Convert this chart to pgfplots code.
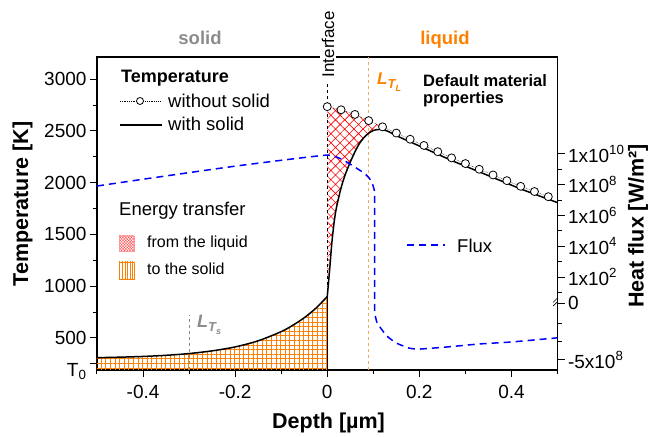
\documentclass[border=0pt]{standalone}
\usepackage{fontspec}
\setmainfont{Liberation Sans}
\usepackage{pgfplots}
\pgfplotsset{compat=1.18}
\usetikzlibrary{patterns.meta}
\definecolor{myorange}{RGB}{255,128,0}
\definecolor{ltlorange}{RGB}{247,168,96}
\definecolor{mygray}{RGB}{140,140,140}
\definecolor{myblue}{RGB}{0,0,255}
\newcommand{\fsz}[1]{\fontsize{#1bp}{#1bp}\selectfont}
\begin{document}
\begin{tikzpicture}
\begin{axis}[
  at={(0,0)}, anchor=south west,
  scale only axis, width=460.5bp, height=313bp,
  xmin=-0.5, xmax=0.5, ymin=190, ymax=3215,
  xtick pos=left, ytick pos=left, tick align=outside,
  xtick={-0.4,-0.2,0,0.2,0.4},
  xticklabels={-0.4,-0.2,0,0.2,0.4},
  minor xtick={-0.5,-0.3,-0.1,0.1,0.3,0.5},
  ytick={250,500,1000,1500,2000,2500,3000},
  yticklabels={\raisebox{-13bp}[0pt][0pt]{T\textsubscript{0}},500,1000,1500,2000,2500,3000},
  minor ytick={750,1250,1750,2250,2750},
  major tick length=7bp, minor tick length=4bp,
  every tick/.style={black, line width=1bp},
  axis line style={line width=1.2bp},
  tick label style={font=\fsz{19}},
  xticklabel style={yshift=-5bp},
  /pgf/number format/assume math mode=true,
]
% energy from the liquid: region between "without solid" and "with solid"
\addplot[draw=none, pattern={Hatch[angle=45,distance=6.5bp,line width=0.6bp]}, pattern color=red] coordinates {
(0,2735) (0.03,2705) (0.06,2660) (0.09,2600) (0.12,2540) (0.125,2525)
(0.115,2515) (0.1,2505) (0.085,2460) (0.07,2380) (0.055,2250) (0.04,2090)
(0.03,1950) (0.02,1760) (0.015,1620) (0.01,1420) (0.005,1150) (0,900)} -- cycle;
% energy to the solid
\addplot[draw=none, pattern={Hatch[angle=0,distance=4.6bp,line width=0.8bp]}, pattern color=myorange, smooth] coordinates {
(-0.5,309) (-0.45,314) (-0.4,321) (-0.35,332) (-0.3,349) (-0.25,375) (-0.2,413)
(-0.15,472) (-0.1,561) (-0.075,622) (-0.05,695) (-0.025,786) (0,900)} \closedcycle;
% reference lines
\draw[mygray, dashed, line width=0.8bp] (axis cs:-0.3,190) -- (axis cs:-0.3,722);
\draw[ltlorange, dashed, line width=1bp] (axis cs:0.09,190) -- (axis cs:0.09,3215);
\draw[black, dashed, line width=0.8bp] (axis cs:0,900) -- (axis cs:0,2975);
\draw[black, line width=1.2bp] (axis cs:0,190) -- (axis cs:0,900);
% with solid curve
\addplot[black, line width=1.5bp, smooth] coordinates {
(-0.5,309) (-0.45,314) (-0.4,321) (-0.35,332) (-0.3,349) (-0.25,375) (-0.2,413)
(-0.15,472) (-0.1,561) (-0.075,622) (-0.05,695) (-0.025,786) (0,900)};
\addplot[black, line width=1.5bp, smooth, tension=0.5] coordinates {
(0,900) (0.005,1150) (0.01,1420) (0.015,1620) (0.02,1760) (0.03,1950)
(0.04,2090) (0.055,2250) (0.07,2380) (0.085,2460) (0.1,2505) (0.115,2515)
(0.13,2500) (0.15,2455) (0.18,2395) (0.21,2335) (0.24,2275) (0.27,2215)
(0.30,2160) (0.33,2105) (0.36,2050) (0.39,1995) (0.42,1940) (0.45,1890)
(0.48,1840) (0.5,1808)};
% without solid curve
\addplot[black, densely dotted, line width=0.5bp, mark=*, mark size=4bp,
  mark options={solid, fill=white, draw=black, line width=0.8bp}] coordinates {
(0,2735) (0.03,2705) (0.06,2660) (0.09,2600) (0.12,2540) (0.15,2480)
(0.18,2420) (0.21,2360) (0.24,2300) (0.27,2240) (0.30,2185) (0.33,2130)
(0.36,2075) (0.39,2020) (0.42,1965) (0.45,1915) (0.48,1865)};
\end{axis}
\begin{axis}[
  at={(0,0)}, anchor=south west,
  scale only axis, width=460.5bp, height=313bp,
  xmin=-0.5, xmax=0.5, ymin=-4.04, ymax=16.29,
  axis x line=none, axis y line*=right, tick align=outside,
  ytick={-3.39,0.31,2,4,6,8,10},
  yticklabels={-5x10\textsuperscript{8},0,1x10\textsuperscript{2},1x10\textsuperscript{4},1x10\textsuperscript{6},1x10\textsuperscript{8},1x10\textsuperscript{10}},
  minor ytick={-2.22,-0.99,1,3,5,7,9},
  major tick length=7bp, minor tick length=4bp,
  every tick/.style={black, line width=1bp},
  axis line style={line width=1.2bp},
  tick label style={font=\fsz{19}},
  /pgf/number format/assume math mode=true,
]
% flux: upper part in decades (log10 of W/m^2), lower part linear (0 at 0.31, -5e8 at -3.39)
\addplot[myblue, line width=1.5bp, dash pattern=on 7bp off 5bp, smooth, tension=0.3] coordinates {
(-0.5,7.91) (-0.4,8.35) (-0.3,8.78) (-0.2,9.20) (-0.1,9.58) (0,9.92)
(0.026,9.72) (0.045,9.42) (0.063,9.08) (0.08,8.75) (0.091,8.43) (0.098,8.05)
(0.102,7.65) (0.103,7.0) (0.103,0.31) (0.103,-0.34) (0.108,-0.95) (0.119,-1.44)
(0.13,-1.85) (0.15,-2.29) (0.178,-2.62) (0.2,-2.68) (0.258,-2.55) (0.33,-2.35)
(0.40,-2.22) (0.5,-1.95)};
\end{axis}
% axis break mark on right axis
\draw[line width=0.7bp] (456bp,64bp) -- (460bp,68bp);
\draw[line width=0.7bp] (456bp,67.5bp) -- (460bp,71.5bp);
% annotations
\node[anchor=base, font=\bfseries\fsz{18.5}, text=mygray] at (103bp,325bp) {solid};
\node[anchor=base, font=\bfseries\fsz{18.5}, text=myorange] at (348bp,325bp) {liquid};
\node[rotate=90, anchor=west, fill=white, inner sep=1.5bp, font=\fsz{17}] at (231bp,291bp) {Interface};
\node[anchor=base west, inner sep=0, text=myorange, font=\bfseries\itshape\fsz{17}] at (280bp,285bp)
  {L\raisebox{-4bp}{\fsz{13}T\raisebox{-3bp}{\fsz{9}L}}};
\node[anchor=base west, inner sep=0, text=mygray, font=\bfseries\itshape\fsz{18}] at (100bp,42bp)
  {L\raisebox{-4bp}{\fsz{13}T\raisebox{-3bp}{\fsz{9}s}}};
\node[anchor=base west, inner sep=0, font=\bfseries\fsz{16.5}] at (326bp,283.5bp) {Default material};
\node[anchor=base west, inner sep=0, font=\bfseries\fsz{16.5}] at (326bp,266bp) {properties};
% legend: temperature
\node[anchor=base west, inner sep=0, font=\bfseries\fsz{18}] at (24bp,287bp) {Temperature};
\draw[densely dotted, line width=0.8bp] (23bp,269bp) -- (63bp,269bp);
\draw[fill=white, line width=0.8bp] (43bp,269bp) circle (3.5bp);
\node[anchor=base west, inner sep=0, font=\fsz{18.5}] at (71bp,262.5bp) {without solid};
\draw[line width=1.5bp] (23bp,245bp) -- (65bp,245bp);
\node[anchor=base west, inner sep=0, font=\fsz{18.5}] at (71bp,239bp) {with solid};
% legend: energy transfer
\node[anchor=base west, inner sep=0, font=\fsz{18.5}] at (22bp,154bp) {Energy transfer};
\path[pattern={Hatch[angle=45,distance=2bp,line width=0.4bp]}, pattern color=red!70] (22bp,119bp) rectangle (37bp,134bp);
\draw[red!40, line width=0.4bp] (22bp,119bp) rectangle (37bp,134bp);
\node[anchor=base west, inner sep=0, font=\fsz{16}] at (50bp,122bp) {from the liquid};
\path[pattern={Lines[angle=90,distance=2.6bp,line width=0.6bp]}, pattern color=myorange] (22bp,91bp) rectangle (37bp,108bp);
\draw[myorange, line width=0.8bp] (22bp,91bp) rectangle (37bp,108bp);
\node[anchor=base west, inner sep=0, font=\fsz{16}] at (50bp,95bp) {to the solid};
% legend: flux
\draw[myblue, line width=1.5bp, dash pattern=on 7bp off 5bp] (310bp,125bp) -- (348bp,125bp);
\node[anchor=base west, inner sep=0, font=\fsz{18.5}] at (360bp,117bp) {Flux};
% axis labels
\node[rotate=90, font=\bfseries\fsz{21.5}] at (-74.5bp,166bp) {Temperature [K]};
\node[rotate=90, font=\bfseries\fsz{21.5}] at (541bp,144bp) {Heat flux [W/m²]};
\node[anchor=base, font=\bfseries\fsz{21.5}] at (231.5bp,-58bp) {Depth [µm]};
\pgfresetboundingbox
\path[use as bounding box] (-97bp,-67bp) rectangle (552bp,370bp);
\end{tikzpicture}
\end{document}
